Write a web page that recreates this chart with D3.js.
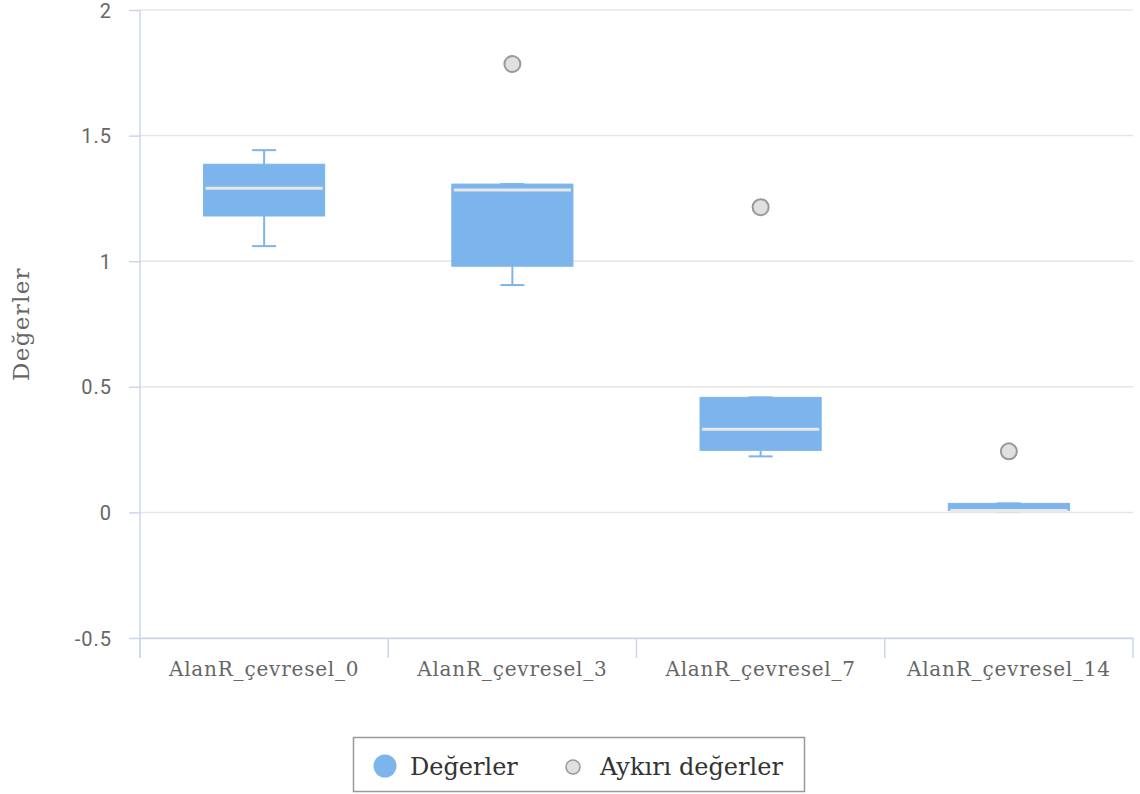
<!DOCTYPE html>
<html>
<head>
<meta charset="utf-8">
<script src="https://cdn.jsdelivr.net/npm/d3@7/dist/d3.min.js"></script>
<style>
  html, body { margin: 0; padding: 0; background: #fff; }
  svg { display: block; }
</style>
</head>
<body>
<svg id="chart" width="1140" height="794"></svg>
<script>
// Box plot data per category
const categories = ["AlanR_çevresel_0", "AlanR_çevresel_3", "AlanR_çevresel_7", "AlanR_çevresel_14"];
const lowValues    = [1.06, 0.905, 0.223, 0.005];
const q1Values     = [1.18, 0.98, 0.247, 0.008];
const medianValues = [1.29, 1.283, 0.331, 0.008];
const q3Values     = [1.386, 1.307, 0.458, 0.036];
const highValues   = [1.442, 1.307, 0.458, 0.036];

// Outlier points
const outlierCategories = ["AlanR_çevresel_3", "AlanR_çevresel_7", "AlanR_çevresel_14"];
const outlierValues     = [1.785, 1.215, 0.243];

// Axis ticks and labels
const yTicks = [-0.5, 0, 0.5, 1, 1.5, 2];
const yTitle = "Değerler";
const legendLabels = ["Değerler", "Aykırı değerler"];

const svg = d3.select("#chart");
const plot = { left: 140, right: 1133, top: 10, bottom: 638 };

const x = d3.scaleBand().domain(categories).range([plot.left, plot.right]).paddingInner(0).paddingOuter(0);
const y = d3.scaleLinear().domain([-0.5, 2]).range([plot.bottom, plot.top]);

const boxColor = "#7cb5ec";
const axisColor = "#ccd6eb";
const gridColor = "#e6e6e6";
const sansFont = "Roboto, 'Noto Sans', sans-serif";
const serifFont = "'DejaVu Serif', serif";

// Horizontal grid lines
svg.append("g").selectAll("line").data(yTicks).join("line")
  .attr("x1", plot.left).attr("x2", plot.right)
  .attr("y1", d => y(d)).attr("y2", d => y(d))
  .attr("stroke", gridColor).attr("stroke-width", 1.5);

// Y axis
const yAxis = svg.append("g")
  .attr("transform", `translate(${plot.left},0)`)
  .call(d3.axisLeft(y).tickValues(yTicks).tickSize(11).tickPadding(17)
    .tickFormat(d => String(d)));
yAxis.select(".domain").remove();
yAxis.selectAll(".tick line").attr("stroke", axisColor).attr("stroke-width", 1.5);
yAxis.selectAll(".tick text")
  .attr("fill", "#666").style("font-family", sansFont).style("font-size", "20px")
  .style("letter-spacing", "1px").attr("dy", "0.35em");

// Left axis line (runs down through the category tick area)
svg.append("line")
  .attr("x1", plot.left).attr("x2", plot.left)
  .attr("y1", plot.top).attr("y2", plot.bottom + 20)
  .attr("stroke", axisColor).attr("stroke-width", 1.5);

// X axis
const xAxis = svg.append("g").attr("transform", `translate(0,${plot.bottom})`)
  .call(d3.axisBottom(x).tickSize(0).tickPadding(24));
xAxis.select(".domain").attr("stroke", axisColor).attr("stroke-width", 1.5);
xAxis.selectAll(".tick text")
  .attr("fill", "#666").style("font-family", serifFont).style("font-size", "20px")
  .style("letter-spacing", "0.8px");

// Category boundary ticks
const boundaries = categories.map(c => x(c)).concat([x(categories[categories.length - 1]) + x.bandwidth()]);
svg.append("g").selectAll("line").data(boundaries).join("line")
  .attr("x1", d => d).attr("x2", d => d)
  .attr("y1", plot.bottom).attr("y2", plot.bottom + 20)
  .attr("stroke", axisColor).attr("stroke-width", 1.5);

// Y axis title
svg.append("text")
  .attr("transform", `translate(29,${(plot.top + plot.bottom) / 2}) rotate(-90)`)
  .attr("text-anchor", "middle")
  .attr("fill", "#666").style("font-family", serifFont).style("font-size", "23px")
  .style("letter-spacing", "1.3px")
  .text(yTitle);

// Boxes
const boxWidth = x.bandwidth() * 0.488;
const capWidth = 24;
const boxes = categories.map((c, i) => ({
  cat: c, low: lowValues[i], q1: q1Values[i], median: medianValues[i], q3: q3Values[i], high: highValues[i]
}));

const bg = svg.append("g").selectAll("g").data(boxes).join("g")
  .attr("transform", d => `translate(${x(d.cat) + x.bandwidth() / 2},0)`);

// Whisker stems
bg.append("line")
  .attr("x1", 0).attr("x2", 0)
  .attr("y1", d => y(d.high)).attr("y2", d => y(d.q3))
  .attr("stroke", boxColor).attr("stroke-width", 2);
bg.append("line")
  .attr("x1", 0).attr("x2", 0)
  .attr("y1", d => y(d.q1)).attr("y2", d => y(d.low))
  .attr("stroke", boxColor).attr("stroke-width", 2);
// Whisker caps
bg.append("line")
  .attr("x1", -capWidth / 2).attr("x2", capWidth / 2)
  .attr("y1", d => y(d.high)).attr("y2", d => y(d.high))
  .attr("stroke", boxColor).attr("stroke-width", 2);
bg.append("line")
  .attr("x1", -capWidth / 2).attr("x2", capWidth / 2)
  .attr("y1", d => y(d.low)).attr("y2", d => y(d.low))
  .attr("stroke", boxColor).attr("stroke-width", 2);
// Box body
bg.append("rect")
  .attr("x", -boxWidth / 2).attr("width", boxWidth)
  .attr("y", d => y(d.q3)).attr("height", d => Math.max(1, y(d.q1) - y(d.q3)))
  .attr("fill", boxColor).attr("stroke", boxColor).attr("stroke-width", 1);
// Median
bg.append("line")
  .attr("x1", -boxWidth / 2 + 2).attr("x2", boxWidth / 2 - 2)
  .attr("y1", d => y(d.median)).attr("y2", d => y(d.median))
  .attr("stroke", "#e8e8e8").attr("stroke-width", 3);

// Outliers
svg.append("g").selectAll("circle").data(outlierValues).join("circle")
  .attr("cx", (d, i) => x(outlierCategories[i]) + x.bandwidth() / 2)
  .attr("cy", d => y(d))
  .attr("r", 8)
  .attr("fill", "#e0e0e0").attr("stroke", "#999").attr("stroke-width", 2);

// Legend
const legend = svg.append("g");
legend.append("rect")
  .attr("x", 353.5).attr("y", 737.5).attr("width", 451).attr("height", 54)
  .attr("fill", "#fff").attr("stroke", "#999").attr("stroke-width", 1.5);
legend.append("circle").attr("cx", 385).attr("cy", 766).attr("r", 11.5).attr("fill", boxColor);
legend.append("text").attr("x", 410).attr("y", 775)
  .attr("fill", "#333").style("font-family", serifFont).style("font-size", "24px")
  .text(legendLabels[0]);
legend.append("circle").attr("cx", 573).attr("cy", 767).attr("r", 7)
  .attr("fill", "#e0e0e0").attr("stroke", "#999").attr("stroke-width", 1.5);
legend.append("text").attr("x", 600).attr("y", 775)
  .attr("fill", "#333").style("font-family", serifFont).style("font-size", "24px")
  .text(legendLabels[1]);
</script>
</body>
</html>
